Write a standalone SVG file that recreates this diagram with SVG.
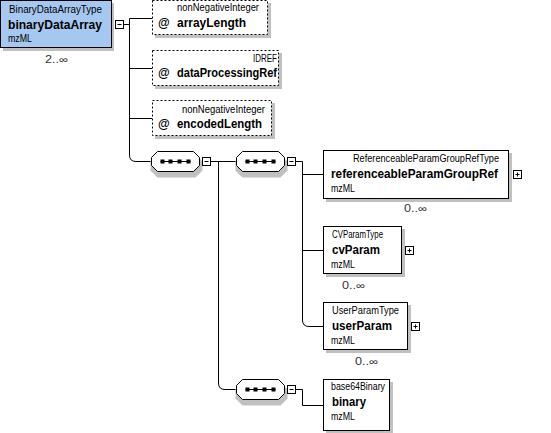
<svg xmlns="http://www.w3.org/2000/svg" width="551" height="433" viewBox="0 0 551 433">
<style>
text{font-family:"Liberation Sans",Arial,sans-serif;fill:#000}
.s{font-size:10px}
.b{font-size:12px;font-weight:bold}
.m{font-size:10px;fill:#333}
.e{text-anchor:end}
.mid{text-anchor:middle}
.box{fill:#fff;stroke:#000;stroke-width:1}
.att{fill:#fff;stroke:#000;stroke-width:1;stroke-dasharray:2,2}
.sh{fill:#c0c0c0}
.ln{fill:none;stroke:#000;stroke-width:1}
.ic{fill:#fff;stroke:#000;stroke-width:1}
</style>
<defs>
<g id="seq">
<polygon points="6,3 44,3 51,10 51,19 44,26 6,26 -1,19 -1,10" class="sh"/>
<polygon points="6,0 42,0 48,6 48,14 42,20 6,20 0,14 0,6" class="box"/>
<line x1="9" y1="10" x2="39" y2="10" stroke="#000" stroke-width="1"/>
<rect x="9" y="8" width="4" height="4" fill="#000"/>
<rect x="17" y="8" width="4" height="4" fill="#000"/>
<rect x="26" y="8" width="4" height="4" fill="#000"/>
<rect x="35" y="8" width="4" height="4" fill="#000"/>
</g>
<g id="minus">
<rect x="0.5" y="0.5" width="8" height="8" class="ic"/>
<line x1="2.5" y1="4.5" x2="6.5" y2="4.5" stroke="#000"/>
</g>
<g id="plus">
<rect x="0.5" y="0.5" width="8" height="8" class="ic"/>
<line x1="2.5" y1="4.5" x2="6.5" y2="4.5" stroke="#000"/>
<line x1="4.5" y1="2.5" x2="4.5" y2="6.5" stroke="#000"/>
</g>
</defs>

<g id="connectors">
<path class="ln" d="M124,24.5 H129.5 M129.5,18.5 V155 Q129.5,161.5 136,161.5 H151 M129.5,18.5 H152 M129.5,68.5 H152 M129.5,118.5 H152"/>
<path class="ln" d="M210,161.5 H236 M218.5,161.5 V383 Q218.5,389.5 225,389.5 H237"/>
<path class="ln" d="M295,161.5 H302.5 V320 Q302.5,326.5 309,326.5 H323 M302.5,174.5 H323 M302.5,250.5 H323"/>
<path class="ln" d="M295,389.5 H302.5 V405.5 H323"/>
</g>

<g id="binaryDataArray">
<rect x="3" y="3" width="111" height="48" class="sh"/>
<rect x="0.5" y="0.5" width="111" height="47" fill="#a6c8f0" stroke="#000"/>
<text x="9" y="13" class="s" textLength="93" lengthAdjust="spacingAndGlyphs">BinaryDataArrayType</text>
<text x="8" y="29" class="b" textLength="94" lengthAdjust="spacingAndGlyphs">binaryDataArray</text>
<text x="8" y="42" class="s" textLength="24" lengthAdjust="spacingAndGlyphs">mzML</text>
<text x="45" y="63" class="m" textLength="23" lengthAdjust="spacingAndGlyphs">2..∞</text>
<use href="#minus" x="115" y="20"/>
</g>

<g id="arrayLength">
<rect x="155" y="3" width="116" height="35" class="sh"/>
<rect x="152.5" y="0.5" width="115" height="34" class="att"/>
<text x="177" y="11" class="s" textLength="82" lengthAdjust="spacingAndGlyphs">nonNegativeInteger</text>
<text x="158" y="27" class="b">@</text>
<text x="177" y="27" class="b" textLength="69" lengthAdjust="spacingAndGlyphs">arrayLength</text>
</g>

<g id="dataProcessingRef">
<rect x="155" y="53" width="127" height="36" class="sh"/>
<rect x="152.5" y="50.5" width="126" height="35" class="att"/>
<text x="253" y="62" class="s" textLength="24" lengthAdjust="spacingAndGlyphs">IDREF</text>
<text x="158" y="77" class="b">@</text>
<text x="177" y="77" class="b" textLength="100" lengthAdjust="spacingAndGlyphs">dataProcessingRef</text>
</g>

<g id="encodedLength">
<rect x="155" y="103" width="120" height="36" class="sh"/>
<rect x="152.5" y="100.5" width="119" height="35" class="att"/>
<text x="182" y="113" class="s" textLength="83" lengthAdjust="spacingAndGlyphs">nonNegativeInteger</text>
<text x="158" y="128" class="b">@</text>
<text x="177" y="128" class="b" textLength="85" lengthAdjust="spacingAndGlyphs">encodedLength</text>
</g>

<g id="sequence1">
<use href="#seq" x="151.5" y="151.5"/>
<use href="#minus" x="202" y="157"/>
</g>

<g id="sequence2">
<use href="#seq" x="236.5" y="151.5"/>
<use href="#minus" x="287" y="157"/>
</g>

<g id="sequence3">
<use href="#seq" x="236.5" y="379.5"/>
<use href="#minus" x="287" y="385"/>
</g>

<g id="referenceableParamGroupRef">
<rect x="326" y="153" width="186" height="49" class="sh"/>
<rect x="323.5" y="150.5" width="185" height="48" class="box"/>
<text x="353" y="162" class="s" textLength="146" lengthAdjust="spacingAndGlyphs">ReferenceableParamGroupRefType</text>
<text x="331" y="178" class="b" textLength="167" lengthAdjust="spacingAndGlyphs">referenceableParamGroupRef</text>
<text x="331" y="192" class="s" textLength="24" lengthAdjust="spacingAndGlyphs">mzML</text>
<text x="404" y="212" class="m" textLength="23" lengthAdjust="spacingAndGlyphs">0..∞</text>
<use href="#plus" x="513" y="170"/>
</g>

<g id="cvParam">
<rect x="326" y="229" width="79" height="48" class="sh"/>
<rect x="323.5" y="226.5" width="78" height="47" class="box"/>
<text x="332" y="238" class="s" textLength="51" lengthAdjust="spacingAndGlyphs">CVParamType</text>
<text x="332" y="254" class="b" textLength="48" lengthAdjust="spacingAndGlyphs">cvParam</text>
<text x="331" y="268" class="s" textLength="24" lengthAdjust="spacingAndGlyphs">mzML</text>
<text x="342" y="289" class="m" textLength="23" lengthAdjust="spacingAndGlyphs">0..∞</text>
<use href="#plus" x="405" y="246"/>
</g>

<g id="userParam">
<rect x="326" y="305" width="85" height="48" class="sh"/>
<rect x="323.5" y="302.5" width="84" height="47" class="box"/>
<text x="332" y="314" class="s" textLength="67" lengthAdjust="spacingAndGlyphs">UserParamType</text>
<text x="332" y="330" class="b" textLength="60" lengthAdjust="spacingAndGlyphs">userParam</text>
<text x="331" y="344" class="s" textLength="24" lengthAdjust="spacingAndGlyphs">mzML</text>
<text x="355" y="365" class="m" textLength="23" lengthAdjust="spacingAndGlyphs">0..∞</text>
<use href="#plus" x="411" y="322"/>
</g>

<g id="binary">
<rect x="326" y="382" width="67" height="52" class="sh"/>
<rect x="323.5" y="379.5" width="66" height="51" class="box"/>
<text x="331" y="390" class="s" textLength="54" lengthAdjust="spacingAndGlyphs">base64Binary</text>
<text x="332" y="406" class="b" textLength="34" lengthAdjust="spacingAndGlyphs">binary</text>
<text x="331" y="420" class="s" textLength="24" lengthAdjust="spacingAndGlyphs">mzML</text>
</g>
</svg>
